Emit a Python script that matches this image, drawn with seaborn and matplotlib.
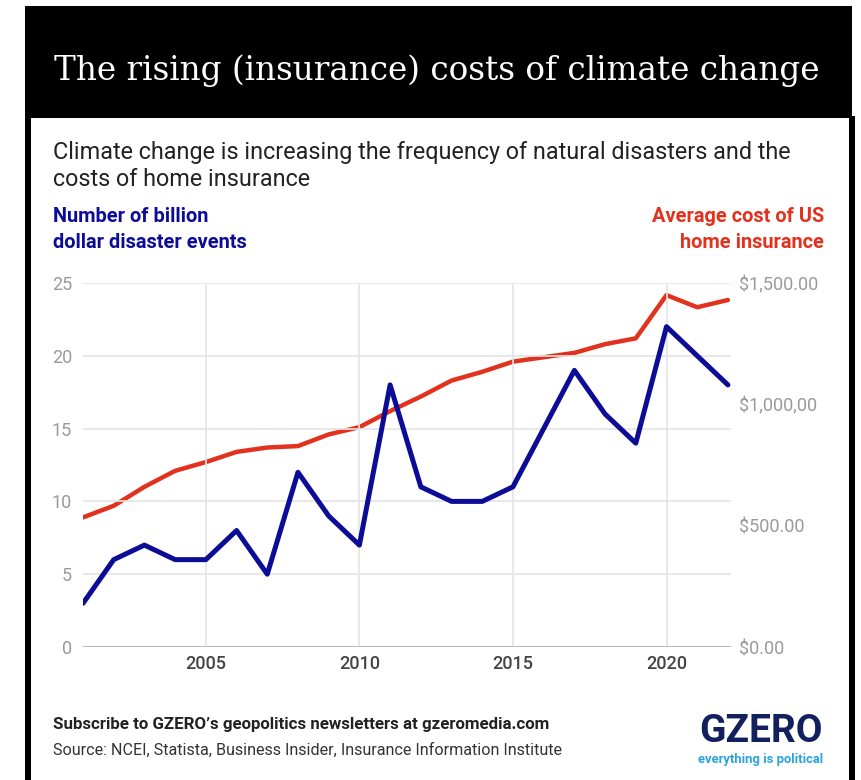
import numpy as np
import matplotlib
matplotlib.use("Agg")
import matplotlib.pyplot as plt
from matplotlib.patches import Rectangle
import pandas as pd
import seaborn as sns

# data
years = list(range(2001, 2023))
disasters = [3, 6, 7, 6, 6, 8, 5, 12, 9, 7, 18, 11, 10, 10, 11, 15, 19, 16, 14, 22, 20, 18]
insurance = [534, 582, 660, 726, 762, 804, 822, 828, 876, 906, 972, 1032, 1098, 1134,
             1176, 1194, 1212, 1248, 1272, 1450, 1400, 1430]
left_ticks = [0, 5, 10, 15, 20, 25]
right_ticks = [0, 500, 1000, 1500]
right_labels = ["$0.00", "$500.00", "$1,000,00", "$1,500.00"]
year_ticks = [2005, 2010, 2015, 2020]

df = pd.DataFrame({"year": years, "disasters": disasters, "insurance": insurance})

BLUE = "#0c0c96"
RED = "#e2311d"
W, H = 862, 780

sns.set_theme(style="whitegrid")
plt.rcParams["font.family"] = ["Roboto", "DejaVu Sans"]

fig = plt.figure(figsize=(W / 100, H / 100), dpi=100)
fig.patch.set_facecolor("white")

def fx(x):
    return x / W

def fy(y):
    return 1 - y / H

# header and frame
fig.add_artist(Rectangle((fx(25), fy(118)), fx(852) - fx(25), fy(6) - fy(118),
                         transform=fig.transFigure, fc="black", ec="none"))
fig.add_artist(Rectangle((fx(25), 0), fx(6), fy(118),
                         transform=fig.transFigure, fc="black", ec="none"))
fig.add_artist(Rectangle((fx(849), 0), fx(6), fy(116),
                         transform=fig.transFigure, fc="black", ec="none"))
fig.text(fx(54), fy(71), "The rising (insurance) costs of climate change", color="white",
         fontsize=23.5, family="DejaVu Serif", va="center", ha="left")

fig.text(fx(53), fy(152), "Climate change is increasing the frequency of natural disasters and the",
         color="#222222", fontsize=16.8, va="center")
fig.text(fx(53), fy(180), "costs of home insurance", color="#222222", fontsize=16.8, va="center")

fig.text(fx(53), fy(217), "Number of billion", color=BLUE, fontsize=14.4, weight="bold", va="center")
fig.text(fx(53), fy(242), "dollar disaster events", color=BLUE, fontsize=14.4, weight="bold", va="center")
fig.text(fx(824), fy(217), "Average cost of US", color=RED, fontsize=14.4, weight="bold",
         va="center", ha="right")
fig.text(fx(824), fy(242), "home insurance", color=RED, fontsize=14.4, weight="bold",
         va="center", ha="right")

# plot
ax = fig.add_axes([fx(83), fy(647), fx(731) - fx(83), fy(283) - fy(647)])
ax2 = ax.twinx()

sns.lineplot(data=df, x="year", y="insurance", ax=ax2, color=RED, linewidth=3.2)
sns.lineplot(data=df, x="year", y="disasters", ax=ax, color=BLUE, linewidth=3.6)
ax.set_zorder(ax2.get_zorder() + 1)
ax.patch.set_visible(False)

ax.set_xlim(2001, 2022.1)
ax.set_ylim(0, 25)
ax2.set_ylim(0, 1500)
ax.set_yticks(left_ticks)
ax2.set_yticks(right_ticks)
ax2.set_yticklabels(right_labels)
ax.set_xticks(year_ticks)
ax.set_xlabel("")
ax.set_ylabel("")
ax2.set_ylabel("")
ax.grid(True, color="#e4e4e4", linewidth=1.2)
ax2.grid(False)
for a in (ax, ax2):
    for s in a.spines.values():
        s.set_visible(False)
    a.tick_params(length=0)
ax.axhline(0, color="#bbbbbb", linewidth=1.5, zorder=1)
ax.tick_params(axis="y", labelcolor="#9a9a9a", labelsize=13, pad=8)
ax2.tick_params(axis="y", labelcolor="#9a9a9a", labelsize=13, pad=6)
ax.tick_params(axis="x", labelcolor="#444444", labelsize=13, pad=6)
for lab in ax.get_xticklabels():
    lab.set_fontweight("medium")

# footer
fig.text(fx(53), fy(725), "Subscribe to GZERO\u2019s geopolitics newsletters at gzeromedia.com",
         color="#222222", fontsize=12.2, weight="bold", va="center")
fig.text(fx(53), fy(750), "Source: NCEI, Statista, Business Insider, Insurance Information Institute",
         color="#333333", fontsize=11.6, va="center")
fig.text(fx(761), fy(731), "GZERO", color="#12215e", fontsize=28, weight="bold",
         va="center", ha="center")
fig.text(fx(761), fy(760), "everything is political", color="#2aa3df", fontsize=9.4,
         weight="bold", va="center", ha="center")

fig.savefig("out.png", dpi=100)
